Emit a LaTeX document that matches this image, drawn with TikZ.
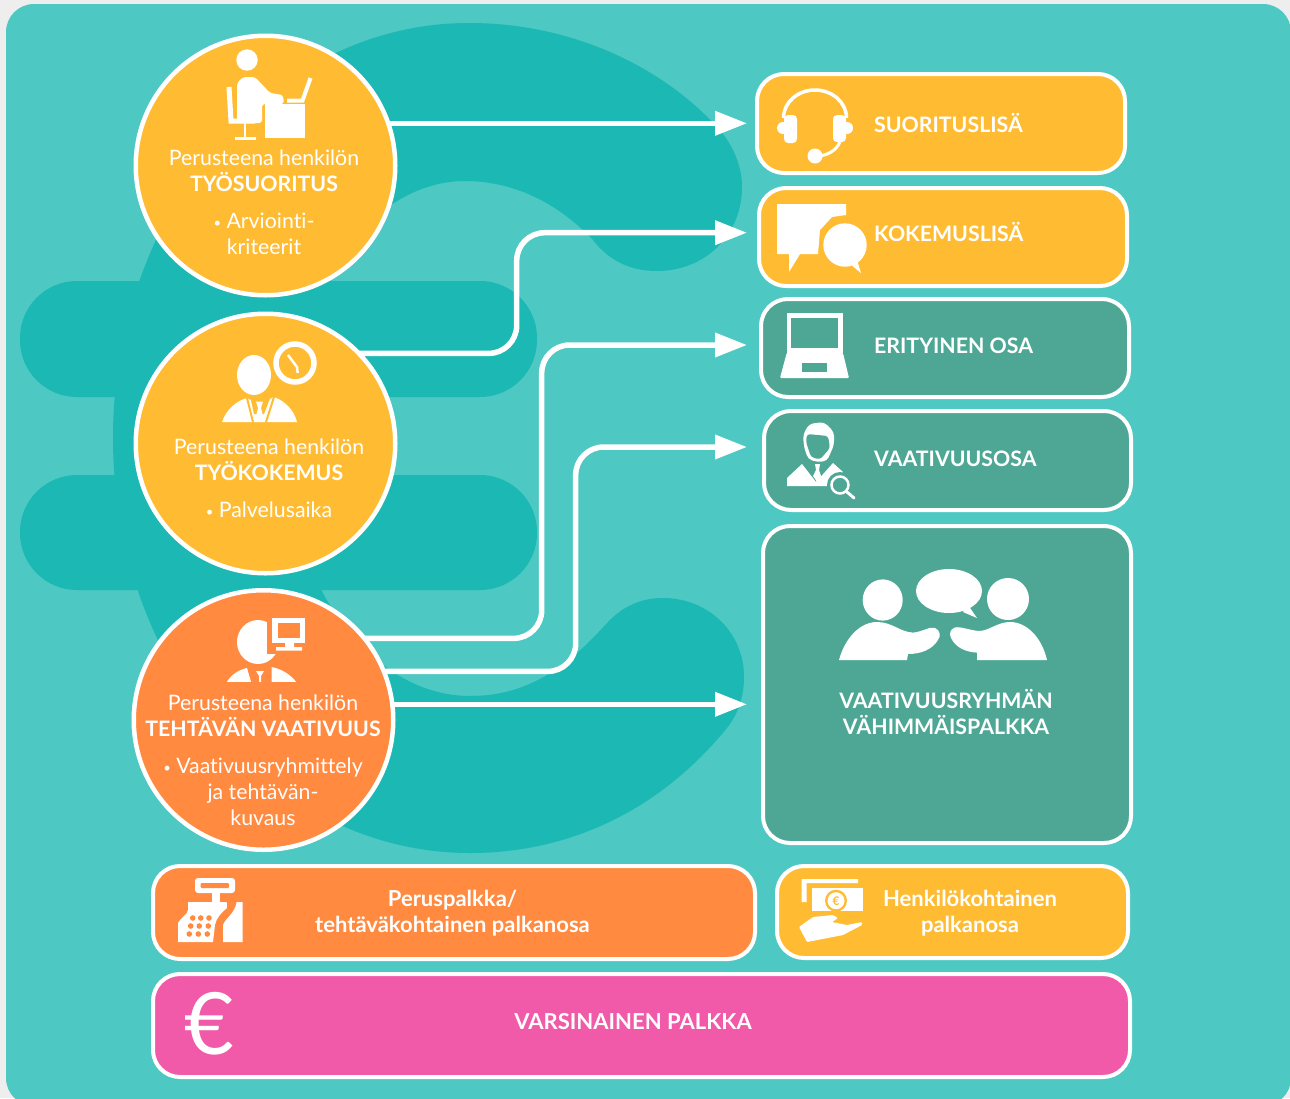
\documentclass[tikz,border=0pt]{standalone}
\usepackage{fontspec}
\setmainfont{Lato}[Ligatures=NoCommon]
\usetikzlibrary{arrows.meta}
\definecolor{pagegray}{HTML}{EEEEEE}
\definecolor{teallight}{HTML}{4DC8C3}
\definecolor{tealdark}{HTML}{1CB8B3}
\definecolor{sunyellow}{HTML}{FFBC33}
\definecolor{warmorange}{HTML}{FF8A40}
\definecolor{sagegreen}{HTML}{4EA795}
\definecolor{hotpink}{HTML}{F05AA9}
\newcommand{\smalldot}{\raisebox{1.5pt}{\fontsize{13}{13}\selectfont•}}
\begin{document}
\begin{tikzpicture}[x=1pt,y=-1pt,
  ball/.style={circle,draw=white,line width=4.5pt,inner sep=0pt,outer sep=0pt,minimum size=259.5pt},
  tile/.style={rectangle,draw=white,line width=4pt,rounded corners=27pt,inner sep=0pt,outer sep=0pt},
  balltext/.style={text=white,align=center,inner sep=0pt,font=\fontsize{21.3}{26}\selectfont},
  tiletext/.style={text=white,align=center,inner sep=0pt,font=\bfseries\fontsize{21.3}{26}\selectfont},
  lowtext/.style={tiletext,font=\bfseries\fontsize{22}{26}\selectfont},
  route/.style={draw=white,line width=5.5pt,-{Triangle[length=32pt,width=23.5pt]},rounded corners=28pt}]
\useasboundingbox (0,0) rectangle (1290,1098);
\fill[pagegray] (0,0) rectangle (1290,1098);
\fill[teallight,rounded corners=28pt] (6,4) rectangle (1291,1106);
\fill[tealdark] (469,23) .. controls (272,23) and (113,209) .. (113,438)
  .. controls (113,667) and (272,853) .. (470,853) .. controls (570,853) and (660,810) .. (727,728)
  .. controls (738,714) and (744,697) .. (744,677) .. controls (744,632) and (708,598) .. (663,598)
  .. controls (640,598) and (622,607) .. (607,623) .. controls (565,670) and (525,696) .. (470,696)
  .. controls (370,696) and (285,580) .. (285,438) .. controls (285,296) and (370,181) .. (465,181)
  .. controls (510,181) and (555,200) .. (593,240) .. controls (610,262) and (632,271) .. (657,271)
  .. controls (705,271) and (742,235) .. (742,187) .. controls (742,165) and (732,143) .. (717,127)
  .. controls (660,65) and (570,23) .. (469,23) -- cycle;
\fill[tealdark,rounded corners=57pt] (20,281) rectangle (537,397);
\fill[tealdark,rounded corners=57pt] (20,475) rectangle (537,590);

\node[ball,fill=sunyellow] (perf) at (265.5,165.5) {};
\node[ball,fill=sunyellow] (exper) at (265.5,443.5) {};
\node[ball,fill=warmorange] (demand) at (263.5,720) {};

\node[tile,fill=sunyellow,minimum width=368pt,minimum height=99pt] (suoritus) at (941,123.5) {};
\node[tile,fill=sunyellow,minimum width=368pt,minimum height=98pt] (kokemus) at (943,237) {};
\node[tile,fill=sagegreen,minimum width=368pt,minimum height=98pt] (erityinen) at (945,348) {};
\node[tile,fill=sagegreen,minimum width=367pt,minimum height=99pt] (vaativuus) at (947.5,460.5) {};
\node[tile,fill=sagegreen,minimum width=368pt,minimum height=317pt] (ryhma) at (947,684.5) {};
\node[tile,fill=warmorange,minimum width=602pt,minimum height=93pt] (perus) at (454,912.5) {};
\node[tile,fill=sunyellow,minimum width=351pt,minimum height=92pt] (henk) at (952.5,912) {};
\node[tile,fill=hotpink,minimum width=977pt,minimum height=103pt] (varsin) at (641.5,1025.5) {};

\coordinate (suoritustip) at (747,123.3);
\coordinate (kokemustip) at (747,232.7);
\coordinate (kokemusbend) at (516.7,232.7);
\coordinate (erityinentip) at (747,345);
\coordinate (erityinenbend) at (541.7,345);
\coordinate (vaativuustip) at (747,447);
\coordinate (vaativuusbend) at (575.7,447);
\coordinate (ryhmatip) at (747,704.3);

\draw[route] (perf.19 |- suoritustip) -- (suoritustip);
\draw[route] (exper.44.5) -| (kokemusbend) -- (kokemustip);
\draw[route] (demand.39.2) -| (erityinenbend) -- (erityinentip);
\draw[route] (demand.22.2) -| (vaativuusbend) -- (vaativuustip);
\draw[route] (demand.7 |- ryhmatip) -- (ryhmatip);

\node[balltext] (perftext) at (264,202.5) {Perusteena henkilön\\{\bfseries TYÖSUORITUS}\\[11pt]\smalldot{} Arviointi-\\kriteerit};
\node[balltext] (expertext) at (269,478.5) {Perusteena henkilön\\{\bfseries TYÖKOKEMUS}\\[11pt]\smalldot{} Palvelusaika};
\node[balltext] (demandtext) at (263,760.5) {Perusteena henkilön\\{\bfseries TEHTÄVÄN VAATIVUUS}\\[11pt]\smalldot{} Vaativuusryhmittely\\ja tehtävän-\\kuvaus};

\node[tiletext,anchor=west] (suoritustext) at (874,122.5) {SUORITUSLISÄ};
\node[tiletext,anchor=west] (kokemustext) at (874,231.5) {KOKEMUSLISÄ};
\node[tiletext,anchor=west] (erityinentext) at (874,346) {ERITYINEN OSA};
\node[tiletext,anchor=west] (vaativuustext) at (874,459) {VAATIVUUSOSA};
\node[tiletext] (ryhmatext) at (946,712) {VAATIVUUSRYHMÄN\\VÄHIMMÄISPALKKA};
\node[lowtext] (perustext) at (452.5,913) {Peruspalkka/\\tehtäväkohtainen palkanosa};
\node[lowtext] (henktext) at (970,913) {Henkilökohtainen\\palkanosa};
\node[lowtext] (varsintext) at (633,1022) {VARSINAINEN PALKKA};
\node[text=white,inner sep=0pt,font=\fontsize{86}{86}\selectfont] (eurosign) at (209.5,1024) {€};

\fill[white] (247,60) circle [radius=10.7];
\fill[white,rounded corners=3pt] (237,123) -- (237,83) -- (243,77) -- (255,77) -- (270,93) -- (283,95) -- (284,104) -- (262,104) -- (262,123) -- cycle;
\draw[white,line width=5pt] (229,87) -- (231,121) -- (255,121);
\draw[white,line width=2.5pt] (245,120) -- (245,138) (235,138.5) -- (256,138.5);
\fill[white] (265,104) rectangle (305,138);
\draw[white,line width=4pt] (287,100.5) -- (302.5,100.5) -- (310.5,78);

\fill[white] (254,375) ellipse [x radius=17,y radius=20];
\fill[sunyellow] (295,363) circle [radius=25];
\draw[white,line width=5.5pt] (295,363) circle [radius=19];
\draw[white,line width=2.5pt] (288,355) -- (297,367) -- (297.7,373);
\fill[white] (222,422) .. controls (226,410) and (236,401) .. (247,398) -- (259,404) -- (274,397) .. controls (285,401) and (294,410) .. (297,422) -- cycle;
\draw[sunyellow,line width=2pt] (247,398) -- (253,422) (274,397) -- (266,422);
\fill[sunyellow] (250,396) -- (271,396) -- (264,414) -- (254,414) -- cycle;
\fill[white] (256,401.6) -- (263,401.6) -- (261,408) -- (263.5,418) -- (255.5,418) -- (258,408) -- cycle;

\fill[white] (258,642) ellipse [x radius=21,y radius=22];
\fill[warmorange] (267,614) rectangle (309,654);
\fill[white] (271.5,618) rectangle (305,642.6);
\fill[warmorange] (277.7,623.4) rectangle (300,638);
\fill[white] (285,642) rectangle (294,648) (276,647) rectangle (302,650.5);
\fill[white] (227,681.8) .. controls (231,675) and (238,670) .. (247,668) -- (251,681.8) -- cycle;
\fill[white] (271.5,667) .. controls (282,669) and (291,675) .. (296,681.8) -- (271.5,681.8) -- cycle;
\fill[white] (256,671) -- (264,671) -- (261,676) -- (261,681.8) -- (259,681.8) -- (259,676) -- cycle;

\draw[white,line width=3.5pt] (783.5,118) arc [start angle=180,end angle=360,x radius=31.5,y radius=28];
\fill[white,rounded corners=4pt] (784,115) rectangle (797,143);
\fill[white,rounded corners=4pt] (833,115) rectangle (846,142);
\fill[white] (783,128) circle [radius=6] (847,128) circle [radius=6];
\draw[white,line width=3pt] (840,142) .. controls (836,150) and (830,154) .. (820,156);
\fill[white] (815,156) circle [radius=7.5];

\fill[white] (777,204) -- (846,204) -- (846,215) -- (832,217) -- (820,230) -- (818,254) -- (800,254) -- (789,272) -- (789,254) -- (777,254) -- cycle;
\fill[white] (845,245) circle [radius=21.7];
\fill[white] (850,264) -- (861,273) -- (857,260) -- cycle;

\fill[white] (786.7,313) rectangle (843,353);
\fill[sagegreen] (791,318) rectangle (838,348);
\fill[white,rounded corners=1pt] (786.7,353) -- (843,353) -- (849,378) -- (780,378) -- cycle;
\fill[sagegreen] (802,363) rectangle (827,372);

\fill[white,rounded corners=4pt] (803,435) -- (809,424) -- (824,422) -- (834,432) -- (834,445) -- (827,461) -- (817,462) -- (808,459) -- (804,447) -- cycle;
\fill[sagegreen,rounded corners=3pt] (807,434) -- (828,436) -- (830,448) -- (820,459.5) -- (811,457) -- (806,442) -- cycle;
\fill[white] (787,486) -- (787,478) -- (802,464) -- (816,482) -- (833,463) -- (843,472) -- (828,486) -- cycle;
\fill[white] (815,464) -- (820,464) -- (819,470) -- (821,476) -- (817,482) -- (813,476) -- (816,470) -- cycle;
\fill[sagegreen] (840,485) circle [radius=13];
\draw[white,line width=2.5pt] (840,485) circle [radius=8.5];
\draw[white,line width=3pt,line cap=round] (847,492) -- (854,498);

\fill[white] (882.7,600) ellipse [x radius=20,y radius=20.6];
\fill[white] (1008,599) ellipse [x radius=21,y radius=21];
\fill[white] (949,591) ellipse [x radius=33,y radius=22];
\fill[white] (963,612) -- (977,618) -- (968,605) -- cycle;
\fill[white] (839,660) .. controls (845,638) and (860,622) .. (877,622) .. controls (892,622) and (900,632) .. (913,632.6) .. controls (922,632) and (930,626) .. (935,628) .. controls (940,630) and (941,636) .. (938,640) .. controls (932,650) and (920,654) .. (908,654) -- (907,660) -- cycle;
\fill[white] (1047,660) .. controls (1042,638) and (1027,622) .. (1010,622) .. controls (998,622) and (990,630) .. (980,631) .. controls (972,631) and (960,626) .. (955,627.5) .. controls (950,629) and (949,634) .. (951,638) .. controls (956,648) and (966,652) .. (977,652.6) -- (977,660) -- cycle;

\fill[white,rounded corners=3pt] (195,878) rectangle (235,893);
\fill[warmorange,rounded corners=1pt] (200.7,883) rectangle (229,888);
\fill[white] (212,893) rectangle (220,902);
\fill[white] (188,902) -- (226.7,902) -- (227,908) .. controls (222,912) and (216,918) .. (215,925) -- (213,942) -- (178,942) -- (178,923) .. controls (180,918) and (188,914) .. (188,910) -- cycle;
\fill[white] (236.7,902) -- (242.7,902) -- (242.7,942) -- (223,942) -- (223,925) .. controls (226,917) and (234,915) .. (236.7,902) -- cycle;
\foreach \keyx/\keyy in {192.7/918,200.7/918,209/918,190.7/926,199.3/926,208.3/926,189.3/934,198.3/934,207.3/934}
  \fill[warmorange] (\keyx,\keyy) circle [radius=2.8];

\fill[white] (801.7,879) rectangle (858,883) (801.7,883) rectangle (806.7,902);
\fill[white] (811.7,888) rectangle (863,910.7);
\fill[sunyellow] (836,900.7) circle [radius=11];
\fill[white] (836,900.7) circle [radius=8.5];
\node[text=sunyellow,inner sep=0pt,font=\bfseries\fontsize{12}{12}\selectfont] (noteeuro) at (836,900.7) {€};
\fill[white,rounded corners=1pt] (799,927) -- (813,917) -- (833,915) -- (838,918) -- (832,922) -- (847,925) -- (862,922) -- (862,925) -- (843,935) -- (807,942) -- cycle;
\end{tikzpicture}
\end{document}
